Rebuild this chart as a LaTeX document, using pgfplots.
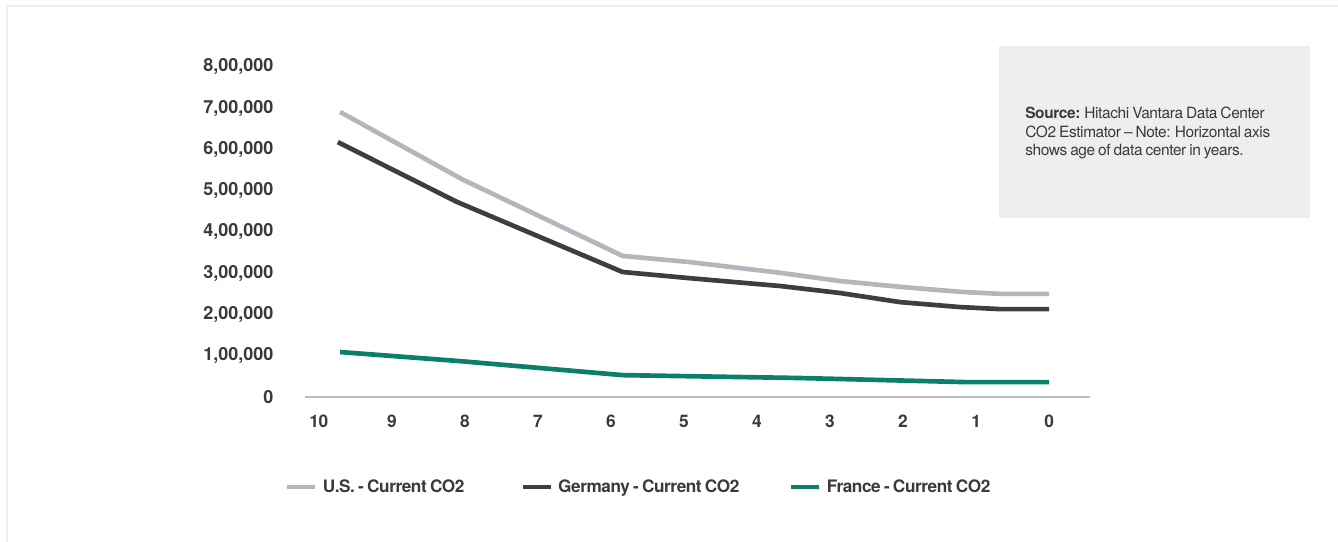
\documentclass[border=0pt]{standalone}
\usepackage{pgfplots}
\pgfplotsset{compat=1.18}
\usepackage{fontspec}
\setmainfont{TeX Gyre Heros}
\newfontfamily\tightfont[LetterSpace=-2.5]{TeX Gyre Heros}
\newfontfamily\boxfont[LetterSpace=-2.5, WordSpace=0.75]{TeX Gyre Heros}
\definecolor{usgray}{HTML}{B5B5BD}
\definecolor{dedark}{HTML}{3E3E3E}
\definecolor{frgreen}{HTML}{0B7F69}
\definecolor{axisgray}{HTML}{BDBDC4}
\definecolor{txt}{HTML}{3A3A3A}
\definecolor{boxgray}{HTML}{EEEEEE}
\begin{document}
\begin{tikzpicture}[x=0.75pt,y=0.75pt]
\path[use as bounding box] (0,0) rectangle (1338,542);
\draw[boxgray, line width=1.5pt] (6.5,0) -- (6.5,535.5) -- (1338,535.5);
\fill[boxgray] (999,324) rectangle (1310,496);
\node[anchor=north west, inner sep=0pt, align=left, font=\boxfont\fontsize{11.6pt}{13.9pt}\selectfont, text=txt] at (1025,435) {\textbf{Source:} Hitachi Vantara Data Center\\CO2 Estimator – Note: Horizontal axis\\shows age of data center in years.};
\begin{axis}[
  at={(228.75pt,108.75pt)}, anchor=south west,
  scale only axis, width=588.75pt, height=247.5pt,
  x dir=reverse, xmin=-0.56, xmax=10.19, ymin=0, ymax=800000,
  axis x line=bottom, axis y line=left,
  x axis line style={draw=axisgray, line width=1.8pt, -},
  y axis line style={draw=none},
  major tick length=0pt,
  scaled y ticks=false,
  /pgf/number format/assume math mode=true,
  xtick={0,1,...,10},
  ytick={0,100000,200000,300000,400000,500000,600000,700000,800000},
  yticklabels={0,{1,00,000},{2,00,000},{3,00,000},{4,00,000},{5,00,000},{6,00,000},{7,00,000},{8,00,000}},
  xticklabel style={font=\tightfont\fontsize{13pt}{15pt}\selectfont\bfseries, text=txt, inner sep=0pt, anchor=north, yshift=-13.5pt},
  yticklabel style={font=\fontsize{13.5pt}{15pt}\selectfont\bfseries, text=txt, inner sep=0pt, anchor=east, xshift=-23.5pt},
  clip=false,
  legend columns=3,
  legend image code/.code={\draw[#1, line width=3.5pt] (0pt,0pt) -- (21pt,0pt);},
  legend style={at={(-0.026,-0.273)}, anchor=west, draw=none, fill=none, inner sep=0pt,
    font=\tightfont\fontsize{12.9pt}{14pt}\selectfont\bfseries, text=txt,
    nodes={inner sep=0pt},
    /tikz/every odd column/.append style={column sep=4pt},
    /tikz/every even column/.append style={column sep=0pt}},
]
\addplot[usgray, line width=3.5pt, line join=round] coordinates {(9.71,691000) (8.04,528000) (5.84,342000) (4.92,327000) (3.68,301000) (2.86,281000) (2.04,267000) (1.22,255000) (0.67,250000) (0,250000)};
\addlegendentry{\makebox[148pt][l]{U.S. - Current CO2}}
\addplot[dedark, line width=3.5pt, line join=round] coordinates {(9.74,618000) (8.11,473000) (5.84,303000) (4.92,288000) (3.68,269000) (2.86,252000) (2.04,230000) (1.22,218000) (0.67,213000) (0,213000)};
\addlegendentry{\makebox[173pt][l]{Germany - Current CO2}}
\addplot[frgreen, line width=3.5pt, line join=round] coordinates {(9.71,109000) (8.07,87000) (5.84,53000) (3.41,46000) (1.12,36000) (0,36000)};
\addlegendentry{France - Current CO2}
\end{axis}
\end{tikzpicture}
\end{document}
